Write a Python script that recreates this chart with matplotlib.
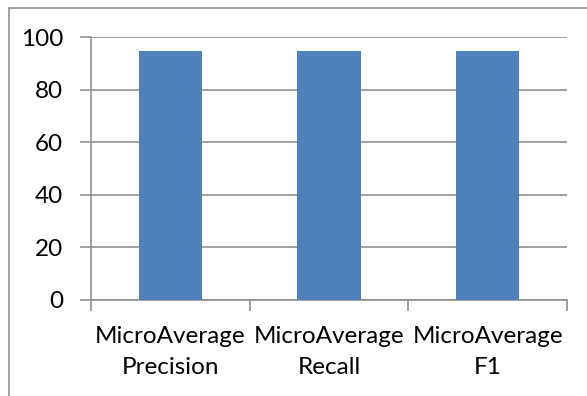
import matplotlib.pyplot as plt
from matplotlib.lines import Line2D

plt.rcParams['font.family'] = ['Lato', 'DejaVu Sans']

# data
categories = ['MicroAverage\nPrecision', 'MicroAverage\nRecall', 'MicroAverage\nF1']
values = [94.7, 94.7, 94.7]
y_ticks = [0, 20, 40, 60, 80, 100]

grey = '#878787'
bar_color = '#4F81BD'

fig = plt.figure(figsize=(5.87, 3.96), dpi=100)
ax = fig.add_axes([91 / 587, 1 - 300 / 396, (567 - 91) / 587, (300 - 37) / 396])

x = list(range(len(categories)))
ax.bar(x, values, width=0.4, color=bar_color, zorder=3)

ax.set_xlim(-0.5, len(categories) - 0.5)
ax.set_ylim(0, 100)
ax.set_yticks(y_ticks)
ax.yaxis.grid(True, color=grey, linewidth=1.1, zorder=0)

# tick marks on category boundaries, labels in the middle
ax.set_xticks([i - 0.5 for i in range(len(categories) + 1)])
ax.set_xticklabels([])
ax.set_xticks(x, minor=True)
ax.set_xticklabels(categories, minor=True, fontsize=17.5, linespacing=1.55)
ax.tick_params(axis='x', which='minor', length=0, pad=19)
ax.tick_params(axis='x', which='major', length=8, color=grey, width=1.1)
ax.tick_params(axis='y', length=8, color=grey, width=1.1, labelsize=17.5, pad=12)

for s in ['top', 'right']:
    ax.spines[s].set_visible(False)
for s in ['left', 'bottom']:
    ax.spines[s].set_color(grey)
    ax.spines[s].set_linewidth(1.1)

# outer chart border (right and bottom sides cut off in the reference)
fig.add_artist(Line2D([9 / 587, 9 / 587], [0, 1 - 8 / 396], transform=fig.transFigure,
                      color=grey, linewidth=1.1))
fig.add_artist(Line2D([9 / 587, 1], [1 - 8 / 396, 1 - 8 / 396], transform=fig.transFigure,
                      color=grey, linewidth=1.1))

fig.savefig('out.png', dpi=100)
